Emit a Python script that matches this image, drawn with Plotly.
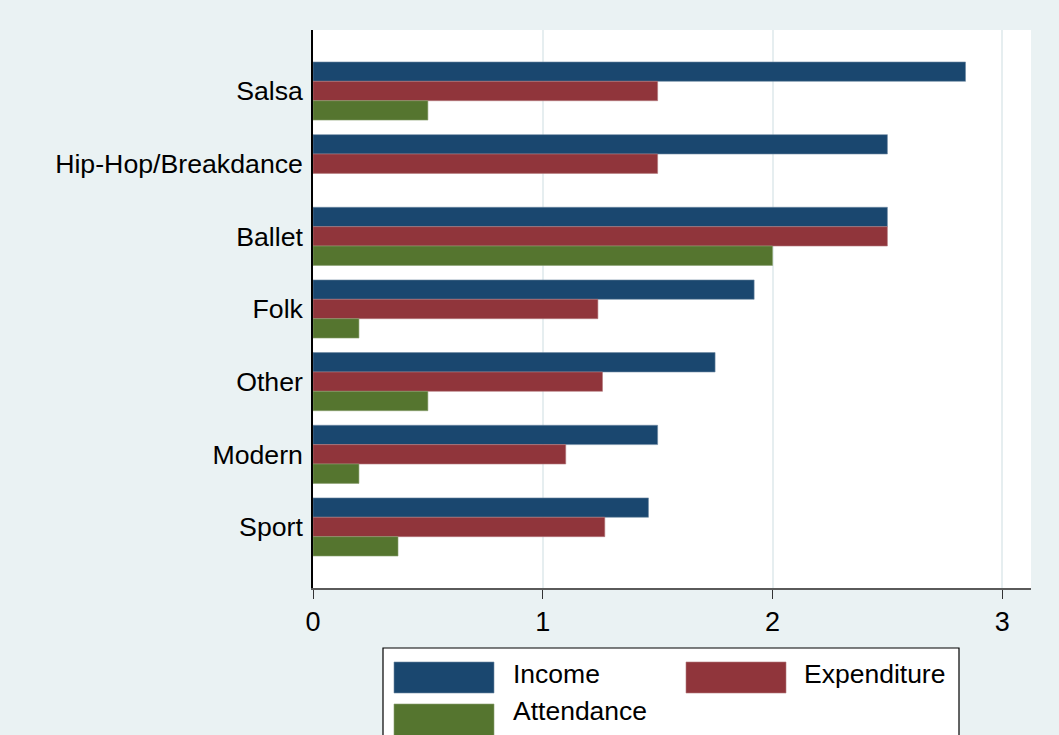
import plotly.graph_objects as go

categories = ["Salsa", "Hip-Hop/Breakdance", "Ballet", "Folk", "Other", "Modern", "Sport"]
income = [2.84, 2.50, 2.50, 1.92, 1.75, 1.50, 1.46]
expenditure = [1.50, 1.50, 2.50, 1.24, 1.26, 1.10, 1.27]
attendance = [0.50, None, 2.00, 0.20, 0.50, 0.20, 0.37]
series_names = ["Income", "Expenditure", "Attendance"]
colors = ["#1a476f", "#90353b", "#55752f"]
edge_colors = ["#6f8aa3", "#b47a7e", "#8aa06e"]
x_ticks = [0, 1, 2, 3]

FONT = "Liberation Sans, Arial, Helvetica, sans-serif"
positions = list(range(len(categories)))

fig = go.Figure()
for name, vals, col, ecol in zip(series_names, [income, expenditure, attendance], colors, edge_colors):
    fig.add_trace(go.Bar(
        y=positions, x=vals, orientation="h", name=name,
        marker=dict(color=col, line=dict(color=ecol, width=0.6)),
        showlegend=False,
    ))

fig.update_layout(
    width=1059, height=735,
    paper_bgcolor="#eaf2f3", plot_bgcolor="#ffffff",
    barmode="group", bargap=0.2, bargroupgap=0,
    margin=dict(l=313, r=28, t=30, b=147),
    font=dict(family=FONT, size=27, color="#000000"),
)
fig.update_xaxes(
    range=[0, 3.125], tickvals=x_ticks, ticktext=[str(v) for v in x_ticks],
    showgrid=True, gridcolor="#e6eef0", gridwidth=2,
    zeroline=False, showline=True, linecolor="#5a5a5a", linewidth=2,
    ticks="outside", ticklen=9, tickwidth=1.2, tickcolor="#333333",
    tickfont=dict(family=FONT, size=27, color="#000000"),
)
fig.update_yaxes(
    range=[6.84, -0.84], tickvals=positions, ticktext=categories,
    showgrid=False, zeroline=False, showline=True, linecolor="#000000", linewidth=1.5,
    ticks="", ticklabelstandoff=3,
    tickfont=dict(family=FONT, size=26.7, color="#000000"),
)

# Custom legend (Stata style) below the plot
def px_x(px):
    return (px - 313) / 718.0

def px_y(py):
    return (588 - py) / 558.0

fig.add_shape(type="rect", xref="paper", yref="paper",
              x0=px_x(383), x1=px_x(959), y0=px_y(742), y1=px_y(648),
              fillcolor="#ffffff", line=dict(color="#000000", width=1.2), layer="below")

legend_items = [
    (394, 662, 693, 511, 674),
    (686, 662, 693, 802, 674),
    (394, 704, 736, 511, 711),
]
for (sx, sy0, sy1, tx, ty), name, col, ecol in zip(legend_items, series_names, colors, edge_colors):
    fig.add_shape(type="rect", xref="paper", yref="paper",
                  x0=px_x(sx), x1=px_x(sx + 100), y0=px_y(sy1), y1=px_y(sy0),
                  fillcolor=col, line=dict(color=ecol, width=0.6))
    fig.add_annotation(xref="paper", yref="paper", x=px_x(tx), y=px_y(ty),
                       text=name, showarrow=False, xanchor="left", yanchor="middle",
                       font=dict(family=FONT, size=26.5, color="#000000"))

fig.write_html("out.html", config={"displayModeBar": False},
               post_script="document.body.style.margin='0px';")
